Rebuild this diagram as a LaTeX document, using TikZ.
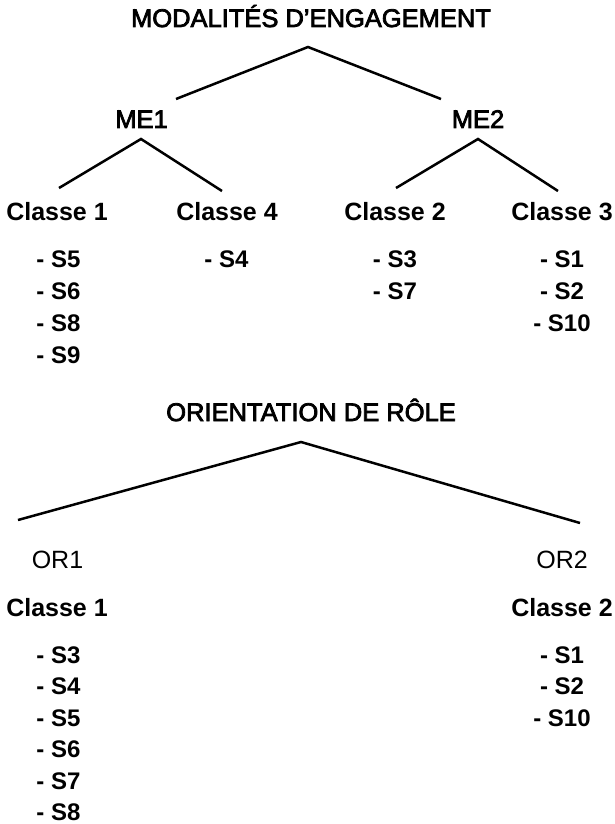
\documentclass[tikz,border=0pt]{standalone}
\usepackage{fontspec}
\setmainfont{Liberation Sans}
\newfontfamily\medfont{Liberation Sans}[FakeBold=3]
\begin{document}
\begin{tikzpicture}[x=1pt,y=-1pt,
  ttl/.style={font=\medfont\fontsize{25.5}{30}\selectfont,anchor=base,inner sep=0pt},
  lvl/.style={font=\medfont\fontsize{25.5}{30}\selectfont,anchor=base,inner sep=0pt},
  orl/.style={font=\fontsize{25}{30}\selectfont,anchor=base,inner sep=0pt},
  cls/.style={font=\bfseries\fontsize{25}{30}\selectfont,anchor=base,inner sep=0pt},
  itm/.style={font=\bfseries\fontsize{24}{30}\selectfont,anchor=base,inner sep=0pt},
  conn/.style={line width=2.5pt,line join=miter}]
\useasboundingbox (0,0) rectangle (615,824);
% ---------- top tree ----------
\node[ttl] (t1) at (311,27) {MODALITÉS D’ENGAGEMENT};
\node[lvl] (me1) at (141.5,128) {ME1};
\node[lvl] (me2) at (478,128) {ME2};
\node[cls] (c1) at (57,220) {Classe 1};
\node[cls] (c4) at (227,220) {Classe 4};
\node[cls] (c2) at (395,220) {Classe 2};
\node[cls] (c3) at (562,220) {Classe 3};
\coordinate (t1a) at (308,47);
\coordinate (t1l) at (176,99);
\coordinate (t1r) at (441,99);
\coordinate (me1a) at (141,139);
\coordinate (me1l) at (59,188);
\coordinate (me1r) at (222,191);
\coordinate (me2a) at (478,139);
\coordinate (me2l) at (396,188);
\coordinate (me2r) at (558,191);
\draw[conn] (t1l) -- (t1a) -- (t1r);
\draw[conn] (me1l) -- (me1a) -- (me1r);
\draw[conn] (me2l) -- (me2a) -- (me2r);
% items
\node[itm] (a1) at (58.5,267) {- S5};
\node[itm] (a2) at (58.5,299) {- S6};
\node[itm] (a3) at (58.5,331) {- S8};
\node[itm] (a4) at (58.5,363) {- S9};
\node[itm] (b1) at (226.5,267) {- S4};
\node[itm] (d1) at (395,267) {- S3};
\node[itm] (d2) at (395,299) {- S7};
\node[itm] (e1) at (562,267) {- S1};
\node[itm] (e2) at (562,299) {- S2};
\node[itm] (e3) at (562,331) {- S10};
% ---------- bottom tree ----------
\node[ttl] (t2) at (311,421) {ORIENTATION DE RÔLE};
\coordinate (t2a) at (301,442);
\coordinate (t2l) at (18,520);
\coordinate (t2r) at (580,523);
\draw[conn] (t2l) -- (t2a) -- (t2r);
\node[orl] (or1) at (57.5,568) {OR1};
\node[orl] (or2) at (562,568) {OR2};
\node[cls] (k1) at (57,616) {Classe 1};
\node[cls] (k2) at (562,616) {Classe 2};
\node[itm] (f1) at (58.5,663) {- S3};
\node[itm] (f2) at (58.5,694.5) {- S4};
\node[itm] (f3) at (58.5,726) {- S5};
\node[itm] (f4) at (58.5,757.5) {- S6};
\node[itm] (f5) at (58.5,789) {- S7};
\node[itm] (f6) at (58.5,820) {- S8};
\node[itm] (g1) at (562,663) {- S1};
\node[itm] (g2) at (562,694.5) {- S2};
\node[itm] (g3) at (562,726) {- S10};
\end{tikzpicture}
\end{document}
